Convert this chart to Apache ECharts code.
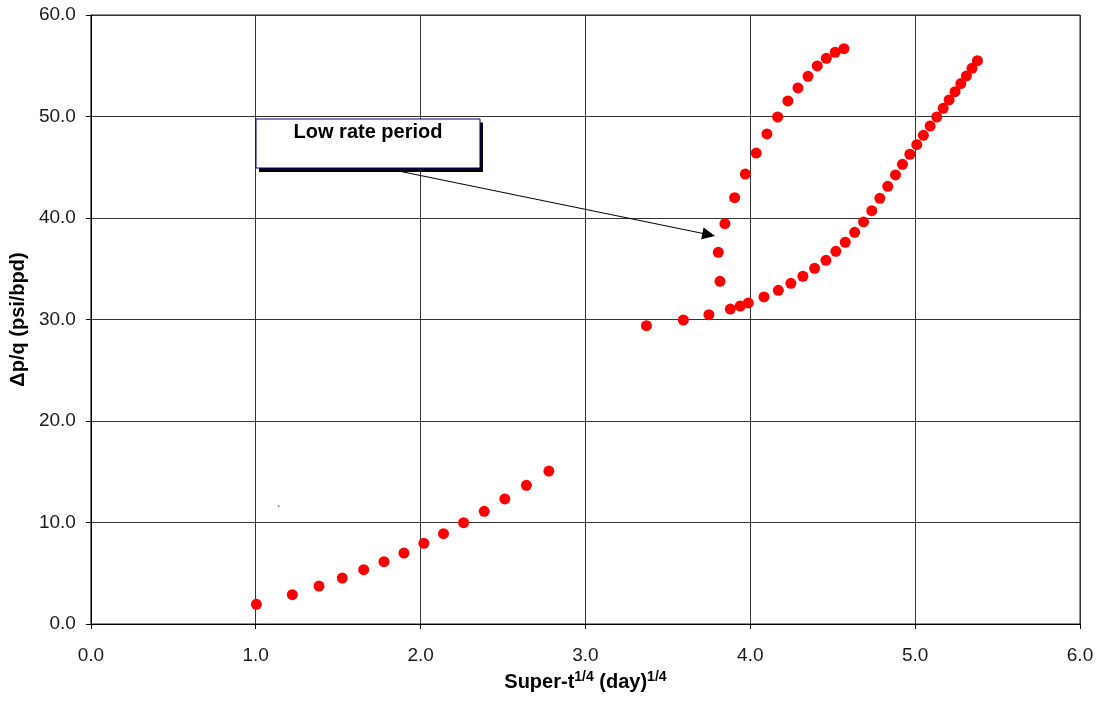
<!DOCTYPE html>
<html>
<head>
<meta charset="utf-8">
<script src="https://cdn.jsdelivr.net/npm/echarts@6/dist/echarts.min.js"></script>
<style>html,body{margin:0;padding:0;background:#fff;}#c{width:1103px;height:711px;}</style>
</head>
<body>
<div id="c"></div>
<script>
// Early (first flow) period
const x1 = [1.004, 1.222, 1.384, 1.525, 1.655, 1.778, 1.899, 2.020, 2.139, 2.261, 2.386, 2.511, 2.642, 2.778];
const y1 = [1.94, 2.89, 3.74, 4.53, 5.35, 6.14, 6.99, 7.95, 8.90, 9.98, 11.10, 12.32, 13.66, 15.07];
// Main later period
const x2 = [3.370, 3.594, 3.749, 3.879, 3.939, 3.988, 4.083, 4.170, 4.246, 4.319, 4.390, 4.459, 4.519, 4.576, 4.633, 4.687, 4.737, 4.786, 4.834, 4.881, 4.923, 4.968, 5.010, 5.050, 5.091, 5.131, 5.170, 5.206, 5.242, 5.277, 5.311, 5.345, 5.378];
const y2 = [29.39, 29.95, 30.48, 31.03, 31.33, 31.63, 32.22, 32.88, 33.57, 34.26, 35.04, 35.83, 36.72, 37.61, 38.59, 39.61, 40.72, 41.94, 43.12, 44.24, 45.29, 46.28, 47.22, 48.15, 49.06, 49.95, 50.81, 51.63, 52.45, 53.24, 54.00, 54.75, 55.50];
// Low rate period branch
const x3 = [3.816, 3.806, 3.846, 3.905, 3.970, 4.036, 4.101, 4.166, 4.228, 4.289, 4.350, 4.406, 4.461, 4.515, 4.568];
const y3 = [33.76, 36.62, 39.44, 42.00, 44.33, 46.40, 48.28, 49.95, 51.53, 52.81, 53.96, 54.98, 55.73, 56.32, 56.68];
const xTicks = [0, 1, 2, 3, 4, 5, 6];
const yTicks = [0, 10, 20, 30, 40, 50, 60];
const noteText = 'Low rate period';
const arrowFrom = [1.836, 44.73];
const arrowTo = [3.748, 38.36];

const zip = (a, b) => a.map((v, i) => [v, b[i]]);
const allData = zip(x1, y1).concat(zip(x2, y2), zip(x3, y3));

const chart = echarts.init(document.getElementById('c'), null, {renderer: 'canvas'});
const font = 'Liberation Sans, Arial, Helvetica, sans-serif';
chart.setOption({
  animation: false,
  backgroundColor: '#ffffff',
  textStyle: {fontFamily: font},
  grid: {left: 90, right: 23, top: 15, bottom: 87, show: true, borderColor: '#222', borderWidth: 1, backgroundColor: 'transparent'},
  xAxis: {
    type: 'value', min: xTicks[0], max: xTicks[xTicks.length - 1], interval: 1,
    axisLine: {show: true, lineStyle: {color: '#000', width: 1}},
    axisTick: {show: true, length: 5, lineStyle: {color: '#000'}},
    axisLabel: {formatter: v => v.toFixed(1), fontSize: 19, color: '#1a1a1a', margin: 22, fontFamily: font},
    splitLine: {show: true, lineStyle: {color: '#333', width: 1}},
    name: '{b|Super-t}{s|1/4}{b| (day)}{s|1/4}',
    nameLocation: 'middle', nameGap: 45,
    nameTextStyle: {
      rich: {
        b: {fontSize: 20, fontWeight: 'bold', color: '#000', fontFamily: font},
        s: {fontSize: 14, fontWeight: 'bold', color: '#000', fontFamily: font, padding: [0, 0, 12, 0]}
      }
    }
  },
  yAxis: {
    type: 'value', min: yTicks[0], max: yTicks[yTicks.length - 1], interval: 10,
    axisLine: {show: true, lineStyle: {color: '#000', width: 1}},
    axisTick: {show: true, length: 5, lineStyle: {color: '#000'}},
    axisLabel: {formatter: v => v.toFixed(1), fontSize: 19, color: '#1a1a1a', margin: 15, fontFamily: font},
    splitLine: {show: true, lineStyle: {color: '#333', width: 1}},
    name: 'Δp/q (psi/bpd)',
    nameLocation: 'middle', nameGap: 57, nameRotate: 90,
    nameTextStyle: {fontSize: 20, fontWeight: 'bold', color: '#000', fontFamily: font}
  },
  series: [{
    type: 'scatter',
    data: allData,
    symbol: 'circle',
    symbolSize: 11,
    itemStyle: {color: '#ff0000', opacity: 1},
    markLine: {
      silent: true,
      symbol: ['none', 'triangle'],
      symbolSize: [12, 13],
      label: {show: false},
      lineStyle: {color: '#000', width: 1, type: 'solid'},
      data: [[{coord: arrowFrom}, {coord: arrowTo}]]
    }
  }],
  graphic: [
    {type: 'rect', shape: {x: 259, y: 122.5, width: 224, height: 49.5}, style: {fill: '#000'}, z: 100},
    {type: 'rect', shape: {x: 256, y: 119, width: 224, height: 49}, style: {fill: '#fff', stroke: '#000080', lineWidth: 1}, z: 101},
    {type: 'text', x: 368, y: 132, style: {text: noteText, fill: '#000', font: 'bold 20px ' + font, textAlign: 'center', textVerticalAlign: 'middle'}, z: 102},
    {type: 'text', x: 279, y: 511, style: {text: '`', fill: '#000', font: '10px ' + font, textAlign: 'center', textVerticalAlign: 'middle'}, z: 102}
  ]
});
</script>
</body>
</html>
